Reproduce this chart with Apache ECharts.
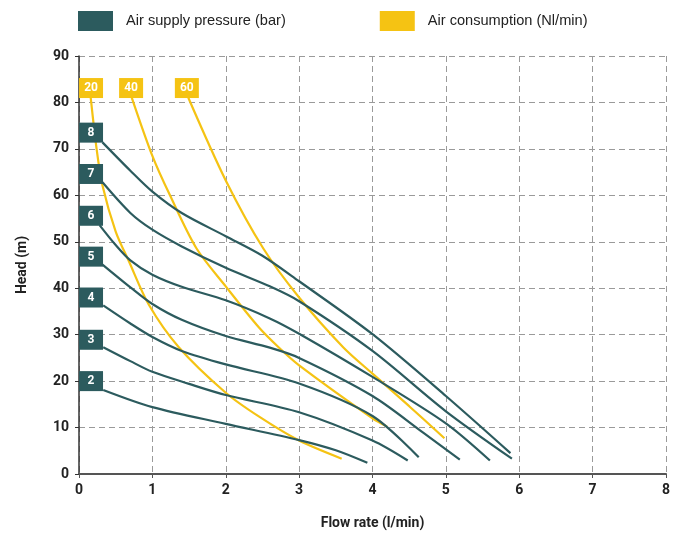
<!DOCTYPE html>
<html>
<head>
<meta charset="utf-8">
<script src="https://cdn.jsdelivr.net/npm/echarts@6/dist/echarts.min.js"></script>
<style>html,body{margin:0;padding:0;background:#fff}#c{width:680px;height:535px}</style>
</head>
<body>
<div id="c"></div>
<script>
// ---- data ----
const xTicks = [0,1,2,3,4,5,6,7,8];
const yTicks = [0,10,20,30,40,50,60,70,80,90];
const pressureName = 'Air supply pressure (bar)';
const airName = 'Air consumption (Nl/min)';
const p8 = [[0.32,71.4],[0.7,65.3],[1.0,60.8],[1.4,56.2],[2.0,51.2],[2.5,47.0],[3.0,41.5],[4.0,30.1],[5.0,16.8],[5.88,4.5]];
const p7 = [[0.32,62.8],[0.7,56.2],[1.0,52.6],[1.4,49.0],[2.0,44.4],[2.6,40.4],[3.0,37.2],[4.0,26.5],[5.0,13.5],[5.9,3.3]];
const p6 = [[0.28,53.6],[0.5,49.3],[0.7,46.0],[1.0,42.9],[1.4,40.3],[2.0,37.4],[2.6,33.5],[3.0,30.2],[4.0,20.9],[5.0,10.9],[5.6,2.9]];
const p5 = [[0.32,45.1],[0.7,40.2],[1.0,36.6],[1.4,33.2],[2.0,29.7],[2.6,27.2],[3.0,25.0],[4.0,16.8],[4.7,8.8],[5.19,3.1]];
const p4 = [[0.33,36.3],[0.7,32.4],[1.0,29.5],[1.4,26.5],[2.0,23.6],[3.0,19.5],[4.0,12.5],[4.63,3.6]];
const p3 = [[0.33,27.3],[0.7,24.3],[1.0,22.0],[1.5,19.4],[2.0,17.0],[3.0,13.3],[4.0,7.2],[4.48,2.9]];
const p2 = [[0.33,18.1],[1.0,14.4],[2.0,10.8],[3.0,7.3],[3.5,5.1],[3.93,2.4]];
const a20 = [[0.16,81],[0.24,70],[0.32,62.1],[0.5,52.2],[0.68,45.8],[0.95,36.5],[1.36,27.3],[2.0,17.5],[2.45,12.4],[3.0,7.2],[3.58,3.3]];
const a40 = [[0.72,81],[1.0,68.5],[1.24,60],[1.6,48.6],[2.0,40.4],[2.45,31.6],[2.72,27.3],[3.0,23.4],[4.0,12.0],[4.2,10.2]];
const a60 = [[1.49,81],[2.0,63.2],[2.51,48.6],[3.0,38.0],[3.6,27.3],[4.0,21.6],[4.5,14.6],[4.98,7.7]];
const pressureCurves = [p8,p7,p6,p5,p4,p3,p2];
const airCurves = [a20,a40,a60];
const pressureLabels = ['8','7','6','5','4','3','2'];
const pressureLabelY = [73.5,64.6,55.6,46.8,38.0,28.9,20.0];
const airLabels = ['20','40','60'];
const airLabelX = [0.164,0.71,1.47];
const airLabelY = 83.1;

const DARK = '#2c5b5e';
const YEL = '#f5c313';
const series = [];
airCurves.forEach(d => series.push({
  name: airName, type:'line', data:d, smooth:0.3, showSymbol:false,
  lineStyle:{color:YEL,width:2.2}, itemStyle:{color:YEL}, z:2
}));
pressureCurves.forEach(d => series.push({
  name: pressureName, type:'line', data:d, smooth:0.3, showSymbol:false,
  lineStyle:{color:DARK,width:2.2}, itemStyle:{color:DARK}, z:3
}));
const boxLabel = {show:true,position:'inside',color:'#fff',fontSize:12,fontWeight:'bold',fontFamily:'Roboto'};
series.push({
  name: pressureName, type:'scatter', symbol:'rect', symbolSize:[24,20], z:5,
  itemStyle:{color:DARK,opacity:1},
  emphasis:{disabled:true},
  data: pressureLabels.map((t,i)=>({value:[0.164,pressureLabelY[i]], label:{formatter:t}})),
  label:boxLabel
});
series.push({
  name: airName, type:'scatter', symbol:'rect', symbolSize:[24,20], z:5,
  itemStyle:{color:YEL,opacity:1},
  emphasis:{disabled:true},
  data: airLabels.map((t,i)=>({value:[airLabelX[i],airLabelY], label:{formatter:t}})),
  label:boxLabel
});

const chart = echarts.init(document.getElementById('c'), null, {renderer:'canvas'});
chart.setOption({
  animation:false,
  backgroundColor:'#fff',
  textStyle:{fontFamily:'Roboto'},
  legend:{
    left:73, top:6, itemWidth:35, itemHeight:20, itemGap:94, icon:'rect',
    data:[pressureName, airName],
    itemStyle:{opacity:1},
    textStyle:{color:'#222',fontSize:14.6,fontFamily:'Liberation Sans',padding:[0,0,0,8]}
  },
  grid:{left:79,right:14,top:56,bottom:57},
  xAxis:{
    type:'value', min:0, max:8, interval:1,
    name:'Flow rate (l/min)', nameLocation:'middle', nameGap:42,
    nameTextStyle:{color:'#222',fontSize:14,fontWeight:'bold'},
    axisLine:{show:true,lineStyle:{color:'#555',width:2}},
    axisTick:{show:true,length:4,lineStyle:{color:'#555'}},
    axisLabel:{color:'#222',fontSize:14,fontWeight:'bold',margin:9,formatter:v=>String(v)},
    splitLine:{show:true,lineStyle:{color:'#9a9a9a',type:[6,4],width:1}}
  },
  yAxis:{
    type:'value', min:0, max:90, interval:10,
    name:'Head (m)', nameLocation:'middle', nameGap:50, nameRotate:90,
    nameTextStyle:{color:'#222',fontSize:14,fontWeight:'bold'},
    axisLine:{show:true,lineStyle:{color:'#333',width:1.5}},
    axisTick:{show:true,length:4,lineStyle:{color:'#333'}},
    axisLabel:{color:'#222',fontSize:14,fontWeight:'bold',margin:10},
    splitLine:{show:true,lineStyle:{color:'#9a9a9a',type:[6,4],width:1}}
  },
  series: series
});
</script>
</body>
</html>
